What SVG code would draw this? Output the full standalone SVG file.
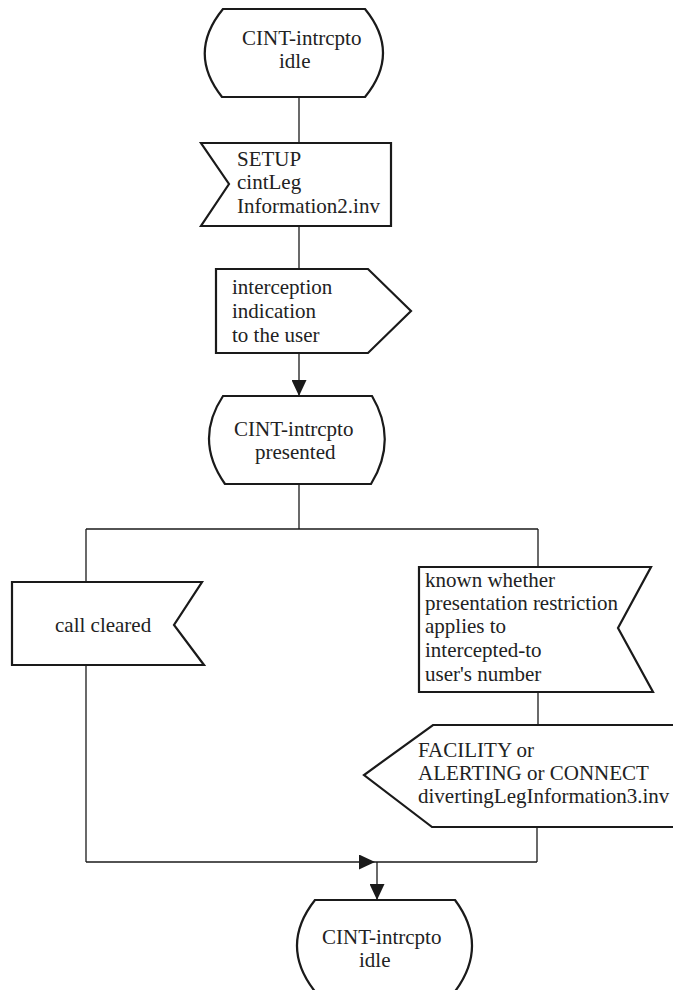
<svg xmlns="http://www.w3.org/2000/svg" width="673" height="990" viewBox="0 0 673 990" font-family="'Liberation Serif', 'Times New Roman', Times, 'DejaVu Serif', serif">
<style>
.shape{fill:#fff;stroke:#1a1a1a;stroke-width:2.2;stroke-linejoin:miter}
.conn{fill:none;stroke:#1a1a1a;stroke-width:1.3}
.t{font-family:'Liberation Serif','Times New Roman',Times,'DejaVu Serif',serif;font-size:21px;fill:#222}
</style>
<defs>
<marker id="arr" viewBox="0 0 16 15" refX="16" refY="7.5" markerWidth="16" markerHeight="15" markerUnits="userSpaceOnUse" orient="auto">
<path d="M0,0 L16,7.5 L0,15 Z" fill="#1a1a1a"/>
</marker>
</defs>
<rect width="673" height="990" fill="#fff"/>
<g id="connectors">
<path class="conn" d="M299,97 V143"/>
<path class="conn" d="M299,226 V269"/>
<path class="conn" d="M299,353 V396" marker-end="url(#arr)"/>
<path class="conn" d="M299,484 V529"/>
<path class="conn" d="M86,529 H538"/>
<path class="conn" d="M86,529 V582"/>
<path class="conn" d="M538,529 V567"/>
<path class="conn" d="M538,692 V725"/>
<path class="conn" d="M86,665 V862"/>
<path class="conn" d="M537,827 V862"/>
<path class="conn" d="M86,862 H375" marker-end="url(#arr)"/>
<path class="conn" d="M375,862 H537"/>
<path class="conn" d="M377,862 V900" marker-end="url(#arr)"/>
</g>
<g id="state_idle_top">
<path class="shape" d="M223,9 L365,9 Q401,53 365,97 L222,97 Q187,53 223,9 Z"/>
<text class="t" x="242" y="45">CINT-intrcpto</text>
<text class="t" x="279" y="68">idle</text>
</g>
<g id="input_setup">
<path class="shape" d="M201,143 L391,143 L391,226 L201,226 L229,184 Z"/>
<text class="t" x="237" y="166">SETUP</text>
<text class="t" x="237" y="189">cintLeg</text>
<text class="t" x="237" y="213">Information2.inv</text>
</g>
<g id="output_interception">
<path class="shape" d="M216,269 L368,269 L411,311 L368,353 L216,353 Z"/>
<text class="t" x="232" y="294">interception</text>
<text class="t" x="232" y="318">indication</text>
<text class="t" x="232" y="342">to the user</text>
</g>
<g id="state_presented">
<path class="shape" d="M223,396 L372,396 Q398,440 371,484 L225,484 Q194,440 223,396 Z"/>
<text class="t" x="234" y="436">CINT-intrcpto</text>
<text class="t" x="255" y="459">presented</text>
</g>
<g id="input_call_cleared">
<path class="shape" d="M12,582 L202,582 L174,625 L204,665 L12,665 Z"/>
<text class="t" x="55" y="632">call cleared</text>
</g>
<g id="input_known">
<path class="shape" d="M419,567 L651,567 L618,628 L653,692 L419,692 Z"/>
<text class="t" x="425" y="587">known whether</text>
<text class="t" x="425" y="610">presentation restriction</text>
<text class="t" x="425" y="633">applies to</text>
<text class="t" x="425" y="657">intercepted-to</text>
<text class="t" x="425" y="681">user's number</text>
</g>
<g id="output_facility">
<path class="shape" d="M433,725 L690,725 L690,827 L432,827 L364,775 Z"/>
<text class="t" x="418" y="757">FACILITY or</text>
<text class="t" x="418" y="780">ALERTING or CONNECT</text>
<text class="t" x="418" y="803">divertingLegInformation3.inv</text>
</g>
<g id="state_idle_bottom">
<path class="shape" d="M315,900 L455,900 Q490,947 453,994 L317,994 Q278,947 315,900 Z"/>
<text class="t" x="322" y="944">CINT-intrcpto</text>
<text class="t" x="359" y="967">idle</text>
</g>
</svg>
